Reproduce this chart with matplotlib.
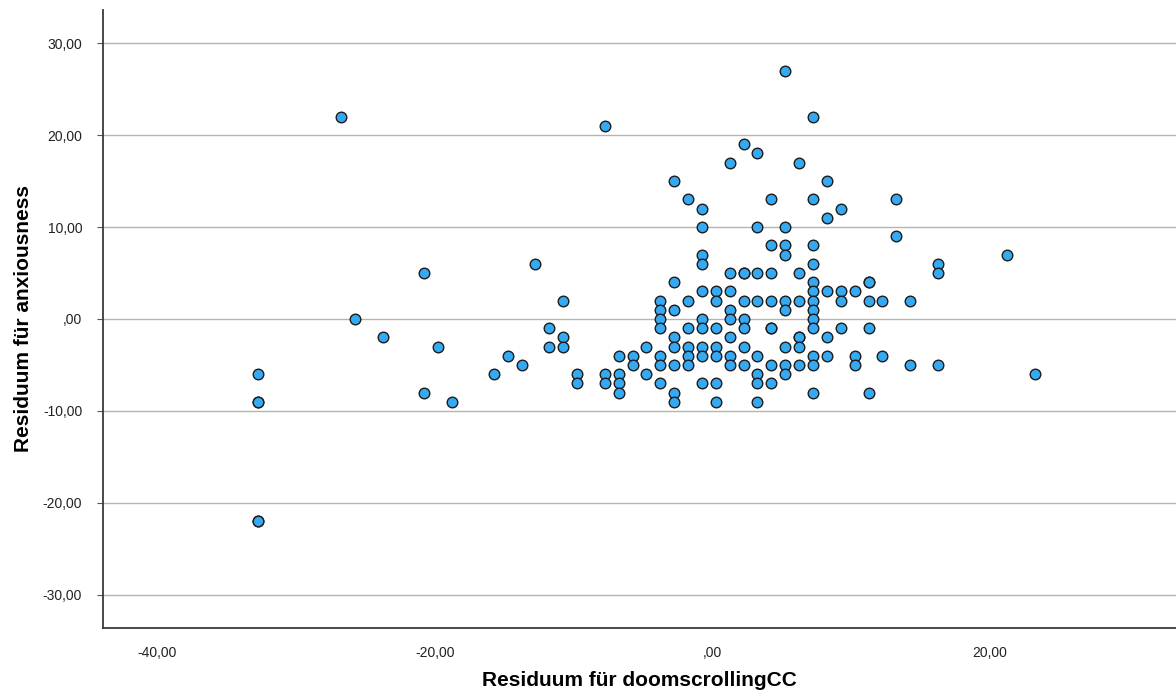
import matplotlib
matplotlib.use("Agg")
import matplotlib.pyplot as plt
from matplotlib.ticker import FuncFormatter, FixedLocator

# residual columns (x) with the y residuals read in each column
x_cols = [-32.75, -26.75, -25.75, -23.75, -20.75, -19.75, -18.75, -15.75, -14.75,
          -13.75, -12.75, -11.75, -10.75, -9.75, -7.75, -6.75, -5.75, -4.75,
          -3.75, -2.75, -1.75, -0.75, 0.25, 1.25, 2.25, 3.25, 4.25, 5.25,
          6.25, 7.25, 8.25, 9.25, 10.25, 11.25, 12.25, 13.25, 14.25, 16.25,
          21.25, 23.25]
y_cols = [
    [-6, -9, -9, -22, -22],
    [22],
    [0],
    [-2],
    [5, -8],
    [-3],
    [-9],
    [-6],
    [-4],
    [-5],
    [6],
    [-1, -3],
    [2, -2, -3],
    [-6, -7],
    [21, -6, -7],
    [-4, -6, -7, -8],
    [-4, -5],
    [-3, -6],
    [2, 1, 0, -1, -4, -5, -7],
    [15, 4, 1, -2, -3, -5, -8, -9],
    [13, 2, -1, -3, -4, -5],
    [12, 10, 7, 6, 3, 0, -1, -3, -4, -7],
    [3, 2, -1, -3, -4, -7, -9],
    [17, 5, 3, 1, 0, -2, -4, -5],
    [19, 5, 5, 2, 0, -1, -3, -5],
    [18, 10, 5, 2, -4, -6, -7, -9],
    [13, 8, 5, 2, -1, -1, -5, -7],
    [27, 10, 8, 7, 2, 1, -3, -5, -6],
    [17, 5, 2, -2, -2, -3, -5],
    [22, 13, 8, 6, 4, 3, 2, 1, 0, -1, -4, -5, -8],
    [15, 11, 3, -2, -4],
    [12, 3, 2, -1],
    [3, -4, -5],
    [4, 4, 2, -1, -8],
    [2, -4],
    [13, 9],
    [2, -5],
    [6, 5, -5],
    [7],
    [-6],
]

y_ticks = [-30, -20, -10, 0, 10, 20, 30]
x_ticks = [-40, -20, 0, 20]
x_label = "Residuum für doomscrollingCC"
y_label = "Residuum für anxiousness"

xs = [x for x, ys in zip(x_cols, y_cols) for _ in ys]
ys = [y for ys_ in y_cols for y in ys_]


def spss_fmt(v, pos):
    # SPSS style: comma decimals, zero shown as ",00"
    if abs(v) < 1e-9:
        return ",00"
    return f"{v:.2f}".replace(".", ",")


plt.rcParams['font.family'] = ['Liberation Sans', 'DejaVu Sans']

fig = plt.figure(figsize=(11.76, 6.98), dpi=100)
ax = fig.add_axes([0.0876, 0.1003, 0.9124, 0.8854])

ax.scatter(xs, ys, s=58, c="#35a9f2", edgecolors="#1c1c1c", linewidths=1.0, zorder=3)

ax.set_xlim(-43.9, 33.4)
ax.set_ylim(-33.6, 33.6)
ax.xaxis.set_major_locator(FixedLocator(x_ticks))
ax.yaxis.set_major_locator(FixedLocator(y_ticks))
ax.xaxis.set_major_formatter(FuncFormatter(spss_fmt))
ax.yaxis.set_major_formatter(FuncFormatter(spss_fmt))

ax.yaxis.grid(True, color="#b4b4b4", linewidth=1.0, zorder=0)
ax.set_axisbelow(True)

for side in ("top", "right"):
    ax.spines[side].set_visible(False)
for side in ("left", "bottom"):
    ax.spines[side].set_color("#3a3a3a")
    ax.spines[side].set_linewidth(1.3)

ax.tick_params(axis="x", length=0, pad=13, labelsize=10, colors="#222222")
ax.tick_params(axis="y", length=4, width=0.8, color="#555555", pad=11,
               labelsize=10, labelcolor="#222222")

ax.set_xlabel(x_label, fontsize=15, fontweight="bold", labelpad=8)
ax.set_ylabel(y_label, fontsize=15, fontweight="bold", labelpad=7)

fig.savefig("out.png", dpi=100)
